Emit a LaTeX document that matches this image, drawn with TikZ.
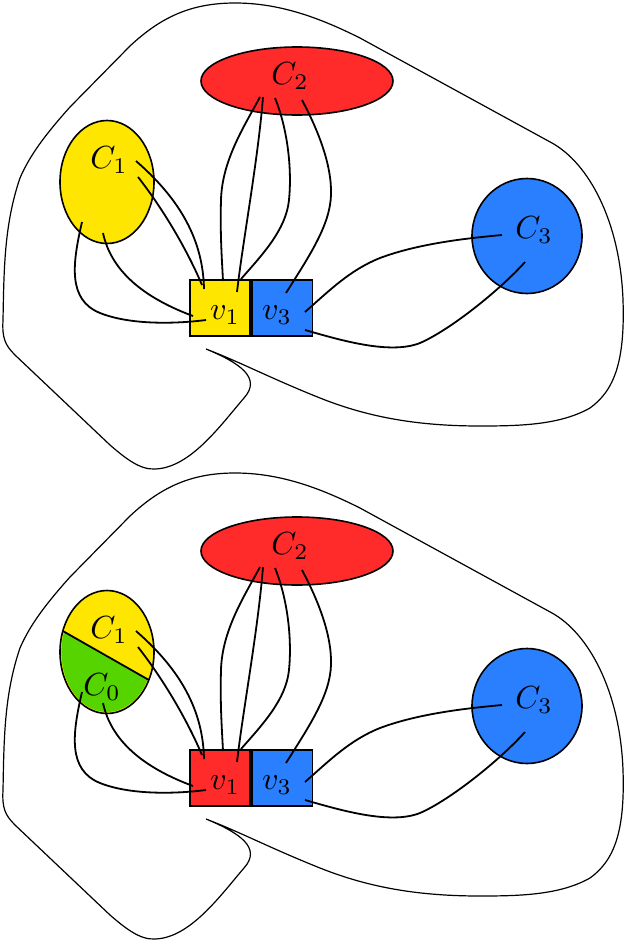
\documentclass[tikz,border=0pt]{standalone}
\usetikzlibrary{shapes.geometric}
\definecolor{cyel}{HTML}{FFE600}
\definecolor{cred}{HTML}{FF2A2A}
\definecolor{cblue}{HTML}{2A7FFF}
\definecolor{cgreen}{HTML}{55D400}
\begin{document}
\begin{tikzpicture}[x=1pt,y=-1pt,
  blob/.style={ellipse, draw=black, line width=1.6pt, inner sep=0pt},
  vbox/.style={rectangle, draw=black, line width=1.6pt, minimum width=60.5pt, minimum height=56pt, inner sep=0pt},
  wire/.style={line width=1.8pt},
  outer/.style={line width=1.2pt},
  lbl/.style={scale=3.2, inner sep=0pt}]
\useasboundingbox (0,0) rectangle (626,942);
% shapes
\foreach \s/\dy/\vc in {t/0/cyel, b/470/cred} {
\begin{scope}[shift={(0,\dy)}]
  \draw[outer] (206,349) .. controls (240,363) and (262,378) .. (244,398)
    .. controls (220,426) and (190,468) .. (155,469)
    .. controls (140,470) and (125,458) .. (110,445)
    -- (15,355) .. controls (5,345) and (2,338) .. (3,320)
    .. controls (4,270) and (4,225) .. (20,178)
    .. controls (30,155) and (45,135) .. (70,107)
    -- (130,46) .. controls (160,18) and (190,3) .. (235,3)
    .. controls (280,3) and (320,18) .. (360,38)
    -- (552,143) .. controls (588,163) and (620,220) .. (623,300)
    .. controls (625,360) and (615,390) .. (590,408)
    .. controls (560,425) and (520,426) .. (480,426)
    .. controls (420,426) and (370,418) .. (320,398)
    .. controls (270,378) and (240,362) .. (206,349);
  \node[blob, fill=cred, minimum width=192pt, minimum height=68pt] (C2\s) at (297,81) {};
  \node[blob, fill=cyel, minimum width=94pt, minimum height=123pt] (C1\s) at (107,182) {};
  \node[blob, fill=cblue, minimum width=110pt, minimum height=115pt] (C3\s) at (527,236) {};
  \node[vbox, fill=\vc] (v1\s) at (220,308) {};
  \node[vbox, fill=cblue, anchor=west] (v3\s) at (v1\s.east) {};
\end{scope}
}
% C0 part of the lower C1
\begin{scope}
  \clip (C1b.center) ellipse [x radius=45.6pt, y radius=60pt];
  \fill[cgreen] (40,618) -- (170,692) -- (170,760) -- (40,760) -- cycle;
\end{scope}
\begin{scope}
  \clip (C1b.center) ellipse [x radius=47pt, y radius=61.5pt];
  \draw[wire] (40,618) -- (170,692);
\end{scope}
% connectors and labels
\foreach \s/\dy in {t/0, b/470} {
\begin{scope}[shift={(0,\dy)}]
  \coordinate (a1\s) at (136,161); \coordinate (b1\s) at (204,289);
  \coordinate (a2\s) at (138,177); \coordinate (b2\s) at (202,285);
  \coordinate (a3\s) at (82,222);  \coordinate (b3\s) at (206,320);
  \coordinate (a4\s) at (103,233); \coordinate (b4\s) at (193,316);
  \coordinate (a5\s) at (260,97);  \coordinate (b5\s) at (223,281);
  \coordinate (a6\s) at (263,97);  \coordinate (b6\s) at (237,292);
  \coordinate (a7\s) at (275,98);  \coordinate (b7\s) at (241,279);
  \coordinate (a8\s) at (302,100); \coordinate (b8\s) at (286,293);
  \coordinate (a9\s) at (305,312); \coordinate (b9\s) at (502,235);
  \coordinate (a10\s) at (305,330); \coordinate (b10\s) at (525,262);
  \draw[wire] (a1\s) .. controls (175,195) and (203,235) .. (b1\s);
  \draw[wire] (a2\s) .. controls (160,205) and (185,245) .. (b2\s);
  \draw[wire] (a3\s) .. controls (72,265) and (68,300) .. (100,313) .. controls (130,325) and (175,324) .. (b3\s);
  \draw[wire] (a4\s) .. controls (112,275) and (150,300) .. (b4\s);
  \draw[wire] (a5\s) .. controls (245,125) and (222,160) .. (221,200) .. controls (220,235) and (222,260) .. (b5\s);
  \draw[wire] (a6\s) .. controls (258,160) and (243,240) .. (b6\s);
  \draw[wire] (a7\s) .. controls (288,130) and (292,170) .. (289,200) .. controls (286,230) and (262,255) .. (b7\s);
  \draw[wire] (a8\s) .. controls (318,130) and (332,165) .. (331,195) .. controls (330,225) and (310,255) .. (b8\s);
  \draw[wire] (a9\s) .. controls (330,290) and (350,270) .. (380,258) .. controls (420,243) and (470,238) .. (b9\s);
  \draw[wire] (a10\s) .. controls (340,340) and (390,355) .. (420,343) .. controls (450,330) and (500,290) .. (b10\s);
  \node[lbl] at (290,76) {$C_2$};
  \node[lbl] at (109,160) {$C_1$};
  \node[lbl] at (534,230) {$C_3$};
  \node[lbl] at (225,315) {$v_1$};
  \node[lbl] at (277,315) {$v_3$};
\end{scope}
}
\node[lbl] at (102,687) {$C_0$};
\end{tikzpicture}
\end{document}
